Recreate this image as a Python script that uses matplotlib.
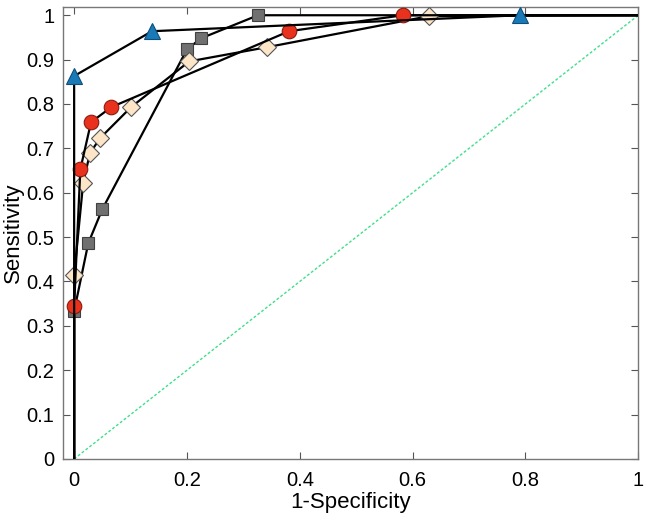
import matplotlib
matplotlib.use('Agg')
import matplotlib.pyplot as plt

plt.rcParams['font.family'] = ['Liberation Sans', 'DejaVu Sans']

# ROC curves
tri_x = [0.0, 0.0, 0.138, 0.79, 1.0]
tri_y = [0.0, 0.863, 0.964, 1.0, 1.0]

sq_x = [0.0, 0.0, 0.025, 0.05, 0.2, 0.225, 0.326, 1.0]
sq_y = [0.0, 0.333, 0.486, 0.563, 0.923, 0.948, 1.0, 1.0]

dia_x = [0.0, 0.0, 0.016, 0.028, 0.046, 0.101, 0.204, 0.342, 0.629, 1.0]
dia_y = [0.0, 0.414, 0.622, 0.689, 0.723, 0.793, 0.896, 0.928, 0.998, 1.0]

circ_x = [0.0, 0.0, 0.011, 0.03, 0.066, 0.381, 0.583, 1.0]
circ_y = [0.0, 0.345, 0.653, 0.759, 0.793, 0.964, 1.0, 1.0]

x_ticks = [0, 0.2, 0.4, 0.6, 0.8, 1]
x_labels = ['0', '0.2', '0.4', '0.6', '0.8', '1']
y_ticks = [0, 0.1, 0.2, 0.3, 0.4, 0.5, 0.6, 0.7, 0.8, 0.9, 1]
y_labels = ['0', '0.1', '0.2', '0.3', '0.4', '0.5', '0.6', '0.7', '0.8', '0.9', '1']

fig = plt.figure(figsize=(6.48, 5.18), dpi=100)
ax = fig.add_axes([0.097, 0.114, 0.888, 0.872])

# chance line
ax.plot([0, 1], [0, 1], color='#3ee08a', linestyle=(0, (2, 1.5)), linewidth=1.0, zorder=1)

ax.plot(sq_x, sq_y, color='black', linewidth=1.6, marker='s', markersize=8.5,
        markerfacecolor='#707070', markeredgecolor='#404040', markeredgewidth=0.8,
        markevery=list(range(1, len(sq_x) - 1)), zorder=3)
ax.plot(dia_x, dia_y, color='black', linewidth=1.6, marker='D', markersize=9,
        markerfacecolor='#fde6c8', markeredgecolor='#555555', markeredgewidth=0.8,
        markevery=list(range(1, len(dia_x) - 1)), zorder=3)
ax.plot(circ_x, circ_y, color='black', linewidth=1.6, marker='o', markersize=10.5,
        markerfacecolor='#e8321e', markeredgecolor='#8a1a10', markeredgewidth=0.8,
        markevery=list(range(1, len(circ_x) - 1)), zorder=4)
ax.plot(tri_x, tri_y, color='black', linewidth=1.6, marker='^', markersize=11.5,
        markerfacecolor='#1a7ab8', markeredgecolor='#0d4f7a', markeredgewidth=0.8,
        markevery=list(range(1, len(tri_x) - 1)), zorder=5)

ax.set_xlim(-0.02, 1.0)
ax.set_ylim(0, 1.018)
ax.set_xticks(x_ticks)
ax.set_xticklabels(x_labels)
ax.set_yticks(y_ticks)
ax.set_yticklabels(y_labels)
ax.tick_params(direction='in', top=True, right=True, length=5, width=0.8,
               color='#555555', labelsize=14.5)
ax.tick_params(axis='x', pad=9)
ax.tick_params(axis='y', pad=6)
for s in ax.spines.values():
    s.set_color('#777777')
    s.set_linewidth(1.0)

ax.set_xlabel('1-Specificity', fontsize=16, labelpad=1)
ax.set_ylabel('Sensitivity', fontsize=16)
ax.yaxis.set_label_coords(-0.068, 0.5)

fig.savefig('out.png', dpi=100)
